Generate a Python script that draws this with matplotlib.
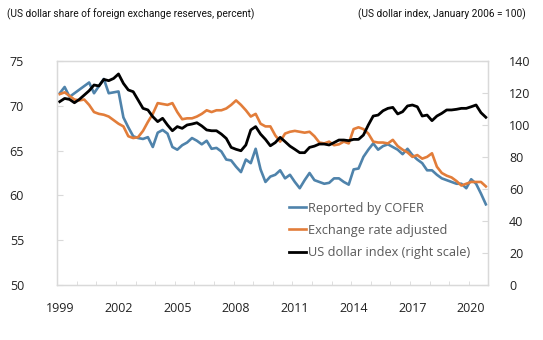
import numpy as np
import matplotlib.pyplot as plt
from matplotlib.ticker import FixedLocator, NullFormatter

# Quarterly series, 1999Q1 - 2020Q4
start_year = 1999
cofer_share = [
    71.4, 72.1, 71.0, 71.4, 71.8, 72.2, 72.6, 71.4, 72.2, 73.0,
    71.4, 71.5, 71.6, 68.7, 67.6, 66.6, 66.4, 66.3, 66.5, 65.4,
    67.0, 67.3, 66.9, 65.4, 65.1, 65.6, 65.9, 66.4, 66.1, 65.7,
    66.1, 65.2, 65.3, 64.9, 64.0, 63.9, 63.2, 62.6, 64.0, 63.6,
    65.2, 62.9, 61.5, 62.1, 62.3, 62.8, 61.9, 62.3, 61.5, 60.8,
    61.7, 62.5, 61.7, 61.5, 61.3, 61.4, 61.9, 61.9, 61.5, 61.2,
    62.9, 63.0, 64.3, 65.1, 65.8, 65.1, 65.5, 65.7, 65.4, 65.1,
    64.6, 65.2, 64.5, 64.0, 63.6, 62.8, 62.8, 62.3, 61.9, 61.7,
    61.5, 61.3, 61.3, 60.8, 61.8, 61.3, 60.2, 59.0,
]
fx_adjusted = [
    71.3, 71.5, 71.1, 70.7, 70.6, 70.7, 70.1, 69.3, 69.1, 69.0,
    68.8, 68.4, 68.0, 67.7, 66.6, 66.4, 66.5, 67.2, 68.2, 69.1,
    70.3, 70.2, 70.1, 70.3, 69.3, 68.5, 68.6, 68.6, 68.8, 69.1,
    69.5, 69.3, 69.5, 69.5, 69.7, 70.1, 70.6, 70.1, 69.5, 68.8,
    69.1, 68.0, 67.7, 67.7, 66.7, 66.0, 66.9, 67.1, 67.2, 67.1,
    67.0, 67.1, 66.6, 65.9, 65.8, 66.0, 65.6, 65.7, 66.0, 65.8,
    67.4, 67.6, 67.4, 66.9, 66.0, 65.9, 65.9, 65.8, 66.2, 65.5,
    65.1, 64.8, 64.3, 64.5, 64.1, 64.3, 64.7, 63.2, 62.5, 62.2,
    62.0, 61.6, 61.1, 61.3, 61.5, 61.5, 61.5, 61.0,
]
usd_index = [
    114.6, 116.6, 116.0, 113.9, 116.0, 118.7, 121.4, 125.0, 124.4, 128.5,
    127.7, 129.1, 131.9, 126.0, 121.9, 120.8, 115.6, 110.4, 109.4, 105.2,
    102.1, 104.2, 100.0, 96.4, 99.0, 97.9, 100.0, 100.6, 101.4, 99.4,
    96.9, 96.4, 96.4, 94.3, 91.6, 86.0, 84.8, 83.9, 87.5, 96.9,
    99.0, 94.3, 91.0, 87.0, 89.0, 92.3, 89.6, 86.8, 84.8, 82.7,
    82.7, 86.0, 86.8, 88.1, 88.1, 87.5, 89.0, 90.6, 90.6, 90.2,
    91.0, 91.0, 93.7, 100.0, 105.6, 106.2, 108.9, 110.4, 111.0, 106.9,
    108.3, 111.9, 112.5, 111.4, 105.6, 106.2, 102.7, 105.6, 107.3, 109.4,
    109.4, 109.8, 110.4, 110.4, 111.4, 112.5, 107.7, 104.8,
]
year_labels = [1999, 2002, 2005, 2008, 2011, 2014, 2017, 2020]

blue = '#4f83ab'
orange = '#e27d3a'
frame = '#d9d9d9'

t = start_year + (np.arange(len(cofer_share)) + 0.5) / 4

fig = plt.figure(figsize=(5.43, 3.40), dpi=100)
ax = fig.add_axes([0.1055, 0.1618, 0.7938, 0.6588])
ax2 = ax.twinx()

l1, = ax.plot(t, cofer_share, color=blue, lw=1.9, solid_joinstyle='round')
l2, = ax.plot(t, fx_adjusted, color=orange, lw=1.9, solid_joinstyle='round')
l3, = ax2.plot(t, usd_index, color='black', lw=2.0, solid_joinstyle='round')

ax.set_xlim(1999, 2021)
ax.set_ylim(50, 75)
ax2.set_ylim(0, 140)
ax.set_yticks(np.arange(50, 76, 5))
ax2.set_yticks(np.arange(0, 141, 20))

# year labels sit on the first quarter of each labelled year
ax.set_xticks([y + 0.125 for y in year_labels])
ax.set_xticklabels([str(y) for y in year_labels])
ax.xaxis.set_minor_locator(FixedLocator(np.arange(1999, 2022)))
ax.xaxis.set_minor_formatter(NullFormatter())

tick_font = {'family': ['Open Sans', 'DejaVu Sans'], 'size': 9}
ax.tick_params(axis='x', which='major', length=0, pad=12, labelcolor='#222222')
ax.tick_params(axis='x', which='minor', direction='in', length=3, color=frame)
ax.tick_params(axis='y', direction='in', length=4, color=frame, pad=24, labelcolor='#222222')
ax2.tick_params(axis='y', direction='in', length=4, color=frame, pad=15, labelcolor='#222222')
for lab in ax.get_xticklabels() + ax.get_yticklabels() + ax2.get_yticklabels():
    lab.set_fontfamily(tick_font['family'])
    lab.set_fontsize(tick_font['size'])

for a in (ax, ax2):
    for s in a.spines.values():
        s.set_color(frame)
        s.set_linewidth(0.9)

leg = ax2.legend([l1, l2, l3],
                 ['Reported by COFER', 'Exchange rate adjusted', 'US dollar index (right scale)'],
                 loc='upper left', bbox_to_anchor=(0.538, 0.372), frameon=False,
                 borderpad=0, borderaxespad=0, handlelength=1.3, handletextpad=0.15,
                 labelspacing=0.72, prop={'family': ['Open Sans', 'DejaVu Sans'], 'size': 9.2})
for txt in leg.get_texts():
    txt.set_color('#595959')

title_font = ['Roboto', 'DejaVu Sans']
fig.text(0.012, 0.958, '(US dollar share of foreign exchange reserves, percent)',
         ha='left', va='center', fontsize=7.3, family=title_font, color='#111111')
fig.text(0.969, 0.958, '(US dollar index, January 2006 = 100)',
         ha='right', va='center', fontsize=7.3, family=title_font, color='#111111')

fig.savefig('out.png', dpi=100)
